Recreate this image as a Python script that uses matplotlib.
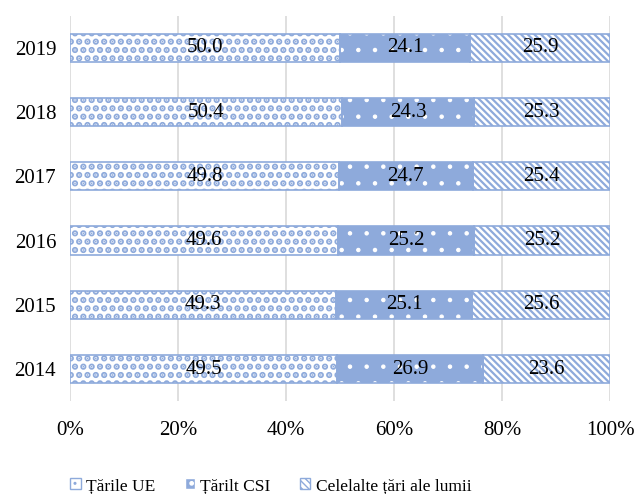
import matplotlib.pyplot as plt
import numpy as np
from matplotlib.patches import Patch

years = ["2014", "2015", "2016", "2017", "2018", "2019"]
ue = [49.5, 49.3, 49.6, 49.8, 50.4, 50.0]
csi = [26.9, 25.1, 25.2, 24.7, 24.3, 24.1]
other = [23.6, 25.6, 25.2, 25.4, 25.3, 25.9]
labels = ["Țările UE", "Țărilt CSI", "Celelalte țări ale lumii"]

blue = "#8eaadb"
plt.rcParams['font.family'] = ['Liberation Serif', 'DejaVu Serif']

fig = plt.figure(figsize=(6.37, 4.94), dpi=100)
ax = fig.add_axes([0.110, 0.188, 0.848, 0.780])

y = np.arange(len(years))
h = 0.44
ue = np.array(ue); csi = np.array(csi); other = np.array(other)

# first segment: white with blue squares
with plt.rc_context({'hatch.linewidth': 3.2}):
    ax.barh(y, ue, height=h, color="white", edgecolor=blue, hatch="..", linewidth=0, zorder=3)
    h1 = Patch(facecolor="white", edgecolor=blue, hatch="..", label=labels[0])
# second segment: blue with small white dots
with plt.rc_context({'hatch.linewidth': 0.8}):
    ax.barh(y, csi, left=ue, height=h, color=blue, edgecolor="white", hatch=".", linewidth=0, zorder=3)
    h2 = Patch(facecolor=blue, edgecolor="white", hatch=".", label=labels[1])
# third segment: diagonal stripes
with plt.rc_context({'hatch.linewidth': 1.6}):
    ax.barh(y, other, left=ue + csi, height=h, color="white", edgecolor=blue, hatch="\\\\\\\\\\", linewidth=0, zorder=3)
    h3 = Patch(facecolor="white", edgecolor=blue, hatch="\\\\\\\\\\", label=labels[2])
# outlines
for left, w in [(0, ue), (ue, csi), (ue + csi, other)]:
    ax.barh(y, w, left=left, height=h, color="none", edgecolor=blue, linewidth=1.2, zorder=4)

for i in range(len(years)):
    ax.text(ue[i] / 2, y[i], f"{ue[i]:.1f}", ha="center", va="center", fontsize=15, zorder=5)
    ax.text(ue[i] + csi[i] / 2, y[i], f"{csi[i]:.1f}", ha="center", va="center", fontsize=15, zorder=5)
    ax.text(ue[i] + csi[i] + other[i] / 2, y[i], f"{other[i]:.1f}", ha="center", va="center", fontsize=15, zorder=5)

ax.set_xlim(0, 100)
ax.set_ylim(-0.5, len(years) - 0.5)
ax.set_yticks(y)
ax.set_yticklabels(years, fontsize=15)
ax.set_xticks(np.arange(0, 101, 20))
ax.set_xticklabels([f"{v}%" for v in range(0, 101, 20)], fontsize=15)
ax.tick_params(axis="y", length=0, pad=10)
ax.tick_params(axis="x", length=0, pad=14)
ax.xaxis.grid(True, color="#d9d9d9", linewidth=1.2, zorder=0)
for s in ax.spines.values():
    s.set_visible(False)

fig.legend(handles=[h1, h2, h3], loc="center", bbox_to_anchor=(0.425, 0.016), ncol=3, frameon=False,
           fontsize=12.5, handlelength=0.6, handleheight=0.6, handletextpad=0.3, columnspacing=1.7)

fig.savefig("out.png", dpi=100)
